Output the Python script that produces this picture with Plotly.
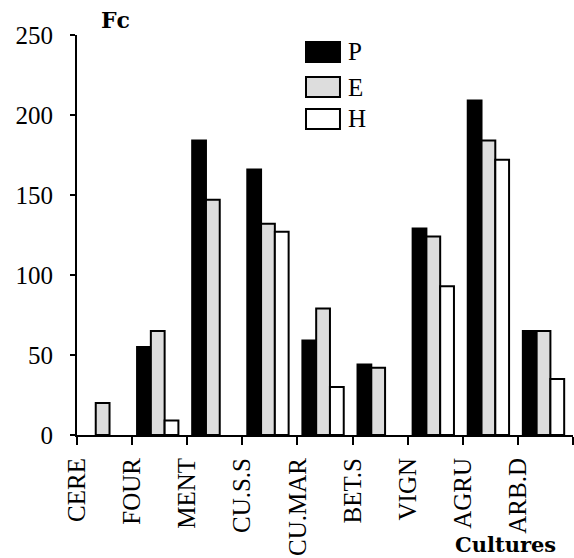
import plotly.graph_objects as go

categories = ["CERE", "FOUR", "MENT", "CU.S.S", "CU.MAR", "BET.S", "VIGN", "AGRU", "ARB.D"]
series_names = ["P", "E", "H"]
P = [None, 55, 184, 166, 59, 44, 129, 209, 65]
E = [20, 65, 147, 132, 79, 42, 124, 184, 65]
H = [None, 9, None, 127, 30, None, 93, 172, 35]
y_ticks = [0, 50, 100, 150, 200, 250]

fills = ["#000000", "#DDDDDD", "#FFFFFF"]
offsets = [-0.41, -0.16, 0.09]
bar_w = 0.25

xpos = [i + 0.5 for i in range(len(categories))]

fig = go.Figure()
for name, vals, col, off in zip(series_names, [P, E, H], fills, offsets):
    fig.add_trace(go.Bar(
        x=xpos, y=vals, name=name, width=bar_w, offset=off,
        marker=dict(color=col, line=dict(color="black", width=2)),
        showlegend=False,
    ))

# manual legend (large swatches)
leg_y = [0.9575, 0.87, 0.79]
for name, col, yc in zip(series_names, fills, leg_y):
    fig.add_shape(type="rect", xref="paper", yref="paper",
                  x0=0.4617, x1=0.5302, y0=yc - 0.025, y1=yc + 0.025,
                  fillcolor=col, line=dict(color="black", width=2))
    fig.add_annotation(text=name, xref="paper", yref="paper", x=0.542, y=yc,
                       xanchor="left", yanchor="middle", showarrow=False,
                       font=dict(family="Liberation Serif", size=25, color="black"))

fig.add_annotation(text="<b>Fc</b>", xref="paper", yref="paper", x=(115 - 77) / 496, y=(435 - 20) / 400,
                   xanchor="center", yanchor="middle", showarrow=False,
                   font=dict(family="DejaVu Serif", size=22, color="black"))
fig.add_annotation(text="<b>Cultures</b>", xref="paper", yref="paper", x=(505 - 77) / 496, y=(435 - 544) / 400,
                   xanchor="center", yanchor="middle", showarrow=False,
                   font=dict(family="DejaVu Serif", size=21, color="black"))

fig.update_layout(
    template="none",
    width=574, height=558,
    margin=dict(l=77, r=1, t=35, b=123, autoexpand=False),
    plot_bgcolor="white", paper_bgcolor="white",
    barmode="overlay",
    font=dict(family="Liberation Serif", size=24, color="black"),
    xaxis=dict(
        range=[0, len(categories)], tickmode="array",
        tickvals=list(range(len(categories) + 1)),
        ticktext=categories + [""],
        tickangle=-90, ticks="outside", ticklen=8, tickwidth=2, tickcolor="black",
        showline=True, linecolor="black", linewidth=2, showgrid=False, zeroline=False,
        tickfont=dict(family="Liberation Serif", size=25),
        ticklabelstandoff=3, automargin=False,
    ),
    yaxis=dict(
        range=[0, 250], tickmode="array", tickvals=y_ticks,
        ticks="outside", ticklen=5, tickwidth=2, tickcolor="black",
        showline=True, linecolor="black", linewidth=2, showgrid=False, zeroline=False,
        tickfont=dict(family="Liberation Serif", size=25),
        ticklabelstandoff=12, automargin=False,
    ),
)

fig.write_html("out.html", config={"displayModeBar": False},
               post_script="document.body.style.margin='0';document.body.style.padding='0';")
